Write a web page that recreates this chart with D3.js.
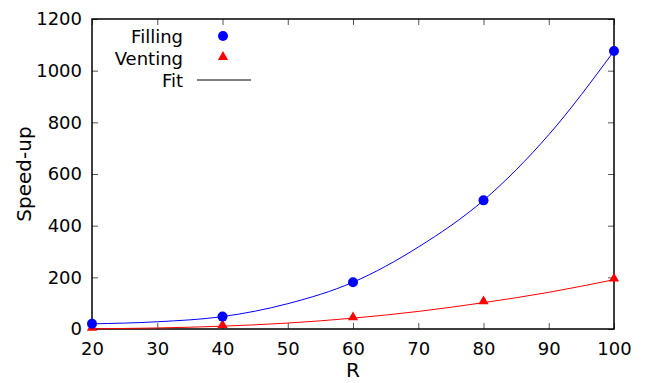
<!DOCTYPE html>
<html>
<head>
<meta charset="utf-8">
<script src="https://cdn.jsdelivr.net/npm/d3@7"></script>
<style>
  html, body { margin: 0; padding: 0; background: #fff; }
  svg text { font-family: "DejaVu Sans", sans-serif; fill: #000; }
</style>
</head>
<body>
<svg id="chart" width="648" height="383"></svg>
<script>
// values
const r_values = [20, 40, 60, 80, 100];
const filling = [20.5, 48, 181, 498, 1076];
const venting = [1, 11, 41, 103, 191];

const fit_r = [20, 30, 40, 50, 60, 70, 80, 90, 100];
const filling_fit = [20, 28, 48, 98, 181, 317, 498, 752, 1076];
const venting_fit = [1, 4, 11, 23, 42, 68, 102, 142, 191];

const x_ticks = [20, 30, 40, 50, 60, 70, 80, 90, 100];
const y_ticks = [0, 200, 400, 600, 800, 1000, 1200];

const legend_items = [
    { label: "Filling", kind: "circle" },
    { label: "Venting", kind: "triangle" },
    { label: "Fit", kind: "line" }
];

const svg = d3.select("#chart");
const margin = { left: 92, right: 34, top: 19, bottom: 54 };
const width = 648, height = 383;

const x = d3.scaleLinear().domain([20, 100]).range([margin.left, width - margin.right]);
const y = d3.scaleLinear().domain([0, 1200]).range([height - margin.bottom, margin.top]);

const tick_len = 6;

// axes, ticks pointing inside and mirrored
const axis_bottom = d3.axisBottom(x).tickValues(x_ticks).tickFormat(d3.format("d")).tickSizeInner(-tick_len).tickSizeOuter(0).tickPadding(13);
const axis_top = d3.axisTop(x).tickValues(x_ticks).tickSizeInner(-tick_len).tickSizeOuter(0).tickFormat("");
const axis_left = d3.axisLeft(y).tickValues(y_ticks).tickFormat(d3.format("d")).tickSizeInner(-tick_len).tickSizeOuter(0).tickPadding(10);
const axis_right = d3.axisRight(y).tickValues(y_ticks).tickSizeInner(-tick_len).tickSizeOuter(0).tickFormat("");

const style_axis = function (g) {
    g.select(".domain").remove();
    g.selectAll(".tick line").attr("stroke", "#555").attr("stroke-width", 1);
    g.selectAll(".tick text").style("font-size", "18px").attr("fill", "#000");
};

svg.append("g").attr("transform", `translate(0,${y(0)})`).call(axis_bottom).call(style_axis);
svg.append("g").attr("transform", `translate(0,${y(1200)})`).call(axis_top).call(style_axis);
svg.append("g").attr("transform", `translate(${x(20)},0)`).call(axis_left).call(style_axis);
svg.append("g").attr("transform", `translate(${x(100)},0)`).call(axis_right).call(style_axis);

// frame
svg.append("rect")
    .attr("x", x(20)).attr("y", y(1200))
    .attr("width", x(100) - x(20)).attr("height", y(0) - y(1200))
    .attr("fill", "none").attr("stroke", "#000").attr("stroke-width", 1.5);

// axis titles
svg.append("text")
    .attr("x", (x(20) + x(100)) / 2).attr("y", 377)
    .attr("text-anchor", "middle").style("font-size", "20px")
    .text("R");
svg.append("text")
    .attr("transform", `translate(31,${(y(0) + y(1200)) / 2}) rotate(-90)`)
    .attr("text-anchor", "middle").style("font-size", "20px")
    .text("Speed-up");

// fit curves
const line = d3.line()
    .x(d => x(d[0]))
    .y(d => y(d[1]))
    .curve(d3.curveMonotoneX);

svg.append("path")
    .datum(fit_r.map((r, i) => [r, filling_fit[i]]))
    .attr("d", line).attr("fill", "none").attr("stroke", "#0000ff").attr("stroke-width", 1);
svg.append("path")
    .datum(fit_r.map((r, i) => [r, venting_fit[i]]))
    .attr("d", line).attr("fill", "none").attr("stroke", "#ff0000").attr("stroke-width", 1);

const tri = d3.symbol().type(d3.symbolTriangle).size(45);

// points
svg.append("g").selectAll("path")
    .data(r_values.map((r, i) => [r, venting[i]]))
    .join("path")
    .attr("d", tri)
    .attr("transform", d => `translate(${x(d[0])},${y(d[1]) - 1})`)
    .attr("fill", "#ff0000");

svg.append("g").selectAll("circle")
    .data(r_values.map((r, i) => [r, filling[i]]))
    .join("circle")
    .attr("cx", d => x(d[0])).attr("cy", d => y(d[1]))
    .attr("r", 5)
    .attr("fill", "#0000ff");

// legend
const legend = svg.append("g");
legend_items.forEach((item, i) => {
    const base = 43 + i * 22;
    legend.append("text")
        .attr("x", 183).attr("y", base)
        .attr("text-anchor", "end").style("font-size", "18px")
        .text(item.label);
    if (item.kind === "circle") {
        legend.append("circle").attr("cx", 223).attr("cy", base - 7).attr("r", 5).attr("fill", "#0000ff");
    } else if (item.kind === "triangle") {
        legend.append("path").attr("d", tri).attr("transform", `translate(223,${base - 8})`).attr("fill", "#ff0000");
    } else {
        legend.append("line")
            .attr("x1", 197).attr("x2", 251)
            .attr("y1", base - 7).attr("y2", base - 7)
            .attr("stroke", "#000").attr("stroke-width", 1);
    }
});
</script>
</body>
</html>
